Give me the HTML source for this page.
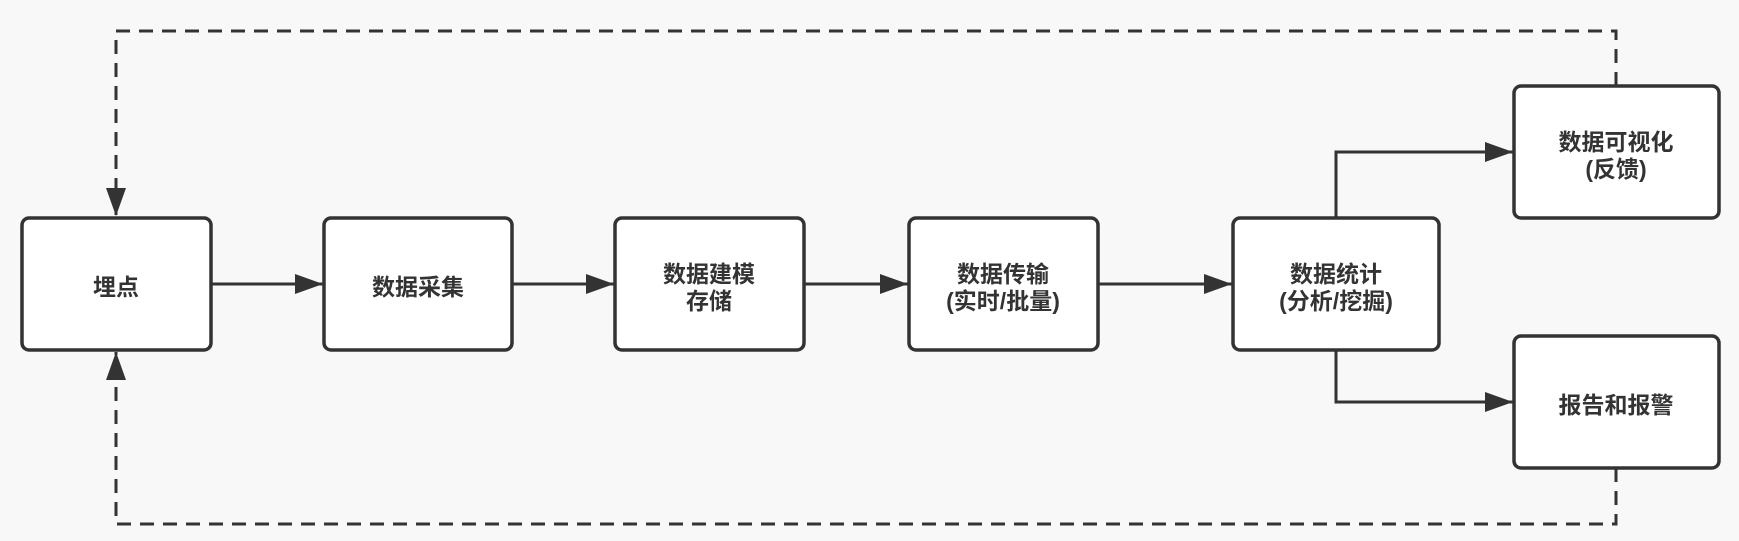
<!DOCTYPE html>
<html><head><meta charset="utf-8"><style>
html,body{margin:0;padding:0;background:#f8f8f8;}
svg{display:block;}
text{font-family:"Liberation Sans","Noto Sans CJK SC",sans-serif;font-size:23px;font-weight:bold;fill:#333;text-anchor:middle;}
</style></head><body>
<svg width="1739" height="541" viewBox="0 0 1739 541" xmlns="http://www.w3.org/2000/svg">
<defs>
<marker id="a" markerWidth="28" markerHeight="20" refX="28" refY="10" orient="auto" markerUnits="userSpaceOnUse">
<path d="M0,0 L28,10 L0,20 Z" fill="#333"/></marker>
</defs>
<g stroke="#333" stroke-width="3" fill="none">
<path d="M1616,86 V31 H116 V216" stroke-dasharray="14,9" marker-end="url(#a)"/>
<path d="M1616,468 V524 H116 V352" stroke-dasharray="14,9" marker-end="url(#a)"/>
<path d="M211,284 H323" marker-end="url(#a)"/>
<path d="M512,284 H614" marker-end="url(#a)"/>
<path d="M804,284 H908" marker-end="url(#a)"/>
<path d="M1098,284 H1232" marker-end="url(#a)"/>
<path d="M1336,218 V152 H1513" marker-end="url(#a)"/>
<path d="M1336,350 V402 H1513" marker-end="url(#a)"/>
</g>
<g stroke="#333" stroke-width="3.5" fill="#fff">
<rect x="22" y="218" width="189" height="132" rx="7"/>
<rect x="324" y="218" width="188" height="132" rx="7"/>
<rect x="615" y="218" width="189" height="132" rx="7"/>
<rect x="909" y="218" width="189" height="132" rx="7"/>
<rect x="1233" y="218" width="206" height="132" rx="7"/>
<rect x="1514" y="86" width="205" height="132" rx="7"/>
<rect x="1514" y="336" width="205" height="132" rx="7"/>
</g>
<text x="116" y="295">埋点</text>
<text x="418" y="295">数据采集</text>
<text x="709" y="282">数据建模</text>
<text x="709" y="309">存储</text>
<text x="1003" y="282">数据传输</text>
<text x="1003" y="309">(实时/批量)</text>
<text x="1336" y="282">数据统计</text>
<text x="1336" y="309">(分析/挖掘)</text>
<text x="1616" y="150">数据可视化</text>
<text x="1616" y="177">(反馈)</text>
<text x="1616" y="413">报告和报警</text>
</svg>
</body></html>
